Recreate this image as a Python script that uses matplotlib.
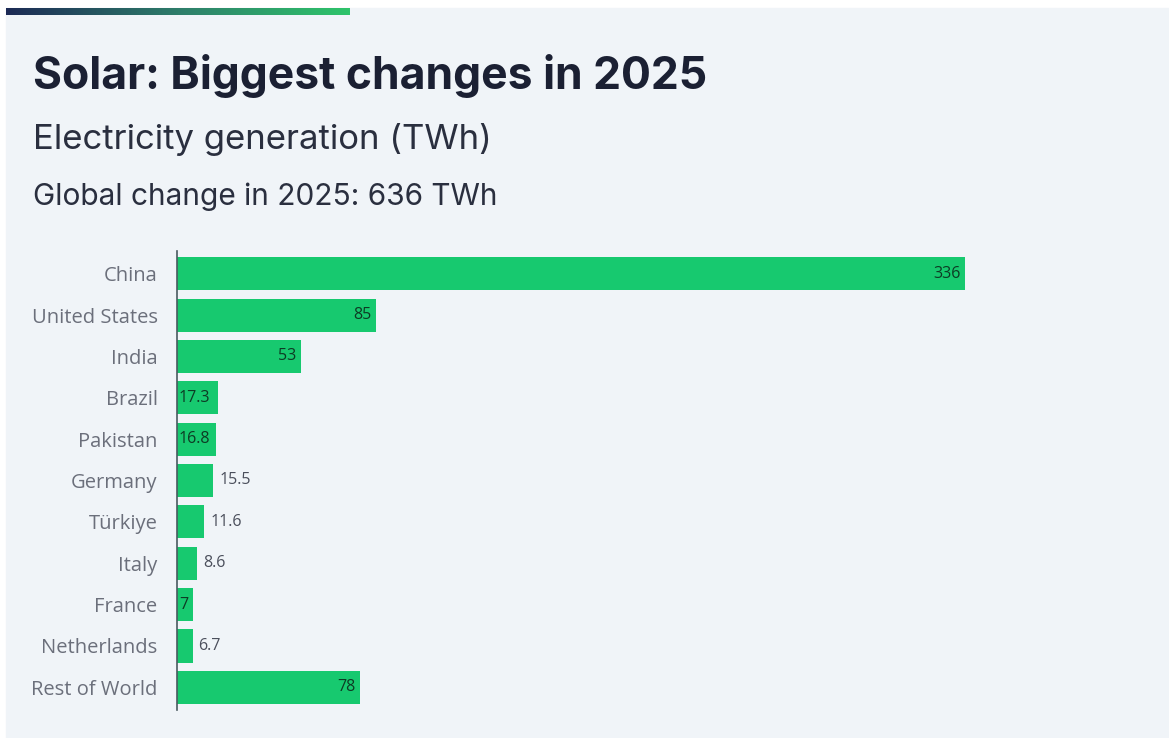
import numpy as np
import matplotlib.pyplot as plt
from matplotlib.colors import LinearSegmentedColormap
from matplotlib.patches import Rectangle

countries = ["China", "United States", "India", "Brazil", "Pakistan", "Germany",
             "Türkiye", "Italy", "France", "Netherlands", "Rest of World"]
change_twh = [336, 85, 53, 17.3, 16.8, 15.5, 11.6, 8.6, 7, 6.7, 78]
value_labels = ["336", "85", "53", "17.3", "16.8", "15.5", "11.6", "8.6", "7", "6.7", "78"]
# where each value label sits: right end inside, left end inside, or past the bar
label_place = ["in_right", "in_right", "in_right", "in_left", "in_left", "out",
               "out", "out", "in_left", "out", "in_right"]

W, H = 1169, 738
fig = plt.figure(figsize=(W / 100, H / 100), dpi=100)
fig.patch.set_facecolor("white")

# light panel behind everything
bg = fig.add_axes([0, 0, 1, 1])
bg.set_xlim(0, W)
bg.set_ylim(H, 0)
bg.axis("off")
bg.add_patch(Rectangle((6, 8), W - 6, H - 8, color="#f0f4f8", zorder=0))
grad = np.linspace(0, 1, 256).reshape(1, -1)
cmap = LinearSegmentedColormap.from_list("band", ["#1c2a55", "#2e7d6a", "#2fc46b"])
bg.imshow(grad, cmap=cmap, extent=(6, 350, 15, 8), aspect="auto", zorder=1)

title_font = ["Inter", "DejaVu Sans"]
text_font = ["Open Sans", "DejaVu Sans"]
fig.text(33 / W, 1 - 76 / H, "Solar: Biggest changes in 2025", fontsize=32,
         fontweight="bold", color="#1b2033", va="center", family=title_font)
fig.text(33 / W, 1 - 140 / H, "Electricity generation (TWh)", fontsize=25,
         color="#2a2f3f", va="center", family=title_font)
fig.text(33 / W, 1 - 197 / H, "Global change in 2025: 636 TWh", fontsize=21.5,
         color="#2a2f3f", va="center", family=title_font)

# bar axes, pixel box 177..1100 x 253..708
x0, x1, y0, y1 = 177, 1100, 253, 708
ax = fig.add_axes([x0 / W, 1 - y1 / H, (x1 - x0) / W, (y1 - y0) / H])
ax.set_facecolor("none")
pos = np.arange(len(countries))
ax.barh(pos, change_twh, height=0.8, color="#17c96f", zorder=2)
ax.set_xlim(0, (x1 - x0) / 2.345)
ax.set_ylim(len(countries) - 0.5, -0.5)
for s in ["top", "right", "bottom"]:
    ax.spines[s].set_visible(False)
ax.spines["left"].set_color("#4a5a60")
ax.spines["left"].set_linewidth(1.2)
ax.spines["left"].set_bounds(len(countries) - 0.45, -0.55)
ax.set_xticks([])
ax.set_yticks(pos)
ax.set_yticklabels(countries, fontsize=14.5, color="#6b6f7b", family=text_font)
ax.tick_params(axis="y", length=0, pad=14)

for i, (v, lab, where) in enumerate(zip(change_twh, value_labels, label_place)):
    if where == "in_right":
        ax.text(v - 2, i, lab, ha="right", va="center", fontsize=11.5,
                color="#0d3b24", family=text_font, zorder=3)
    elif where == "in_left":
        ax.text(0.8, i, lab, ha="left", va="center", fontsize=11.5,
                color="#0d3b24", family=text_font, zorder=3)
    else:
        ax.text(v + 2.5, i, lab, ha="left", va="center", fontsize=11.5,
                color="#4b4f5c", family=text_font, zorder=3)

fig.savefig("out.png", dpi=100, facecolor=fig.get_facecolor())
